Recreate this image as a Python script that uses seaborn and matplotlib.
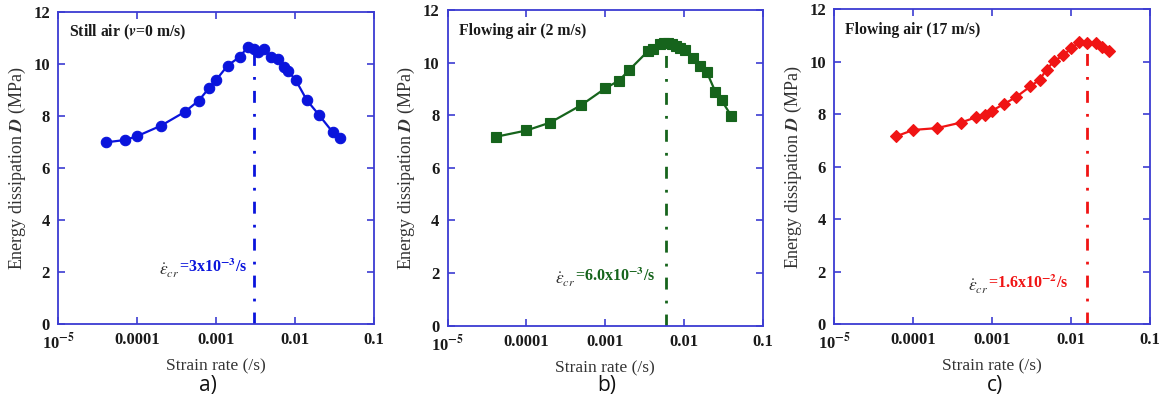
import numpy as np
import pandas as pd
import matplotlib
matplotlib.use("Agg")
import matplotlib.pyplot as plt
from matplotlib.ticker import FixedLocator, NullLocator, FixedFormatter
import seaborn as sns

# ---------------- data ----------------
rate_a = [4.0e-5, 7.0e-5, 1.0e-4, 2.0e-4, 4.0e-4, 6.0e-4, 8.1e-4, 1.0e-3, 1.4e-3, 2.0e-3,
          2.5e-3, 3.0e-3, 3.4e-3, 4.0e-3, 4.9e-3, 6.0e-3, 7.2e-3, 8.1e-3, 1.02e-2, 1.41e-2,
          2.0e-2, 3.0e-2, 3.7e-2]
D_a = [6.98, 7.07, 7.22, 7.62, 8.15, 8.58, 9.06, 9.38, 9.93, 10.27,
       10.64, 10.55, 10.45, 10.55, 10.27, 10.17, 9.86, 9.73, 9.37, 8.6,
       8.04, 7.37, 7.13]

rate_b = [4.1e-5, 1.0e-4, 2.0e-4, 5.0e-4, 1.0e-3, 1.5e-3, 2.0e-3, 3.5e-3, 4.1e-3, 5.0e-3,
          5.5e-3, 6.2e-3, 7.0e-3, 8.0e-3, 9.0e-3, 1.03e-2, 1.3e-2, 1.6e-2, 1.95e-2, 2.5e-2,
          3.0e-2, 4.0e-2]
D_b = [7.18, 7.42, 7.72, 8.39, 9.02, 9.32, 9.71, 10.44, 10.53, 10.72,
       10.73, 10.73, 10.70, 10.65, 10.57, 10.47, 10.19, 9.88, 9.64, 8.9,
       8.57, 7.97]

rate_c = [6.0e-5, 1.0e-4, 2.0e-4, 4.0e-4, 6.2e-4, 8.2e-4, 1.0e-3, 1.4e-3, 2.0e-3, 3.05e-3,
          4.0e-3, 4.9e-3, 6.0e-3, 8.0e-3, 1.0e-2, 1.27e-2, 1.6e-2, 2.05e-2, 2.5e-2, 3.05e-2]
D_c = [7.15, 7.40, 7.47, 7.68, 7.88, 7.98, 8.14, 8.38, 8.65, 9.06,
       9.32, 9.70, 10.01, 10.25, 10.52, 10.74, 10.71, 10.71, 10.56, 10.42]

titles = ["Still air ($\\mathbfit{v}$=0 m/s)", "Flowing air (2 m/s)", "Flowing air (17 m/s)"]
crit_rate = [3.0e-3, 6.0e-3, 1.6e-2]
crit_top = [10.5, 10.72, 10.72]
crit_text = ["=3x10$^{\\mathbf{-3}}$/s", "=6.0x10$^{\\mathbf{-3}}$/s", "=1.6x10$^{\\mathbf{-2}}$/s"]
crit_text_pos = [(1.9e-4, 1.85), (2.3e-4, 1.55), (4.95e-4, 1.22)]
panel_labels = ["a)", "b)", "c)"]

x_ticks = [1e-5, 1e-4, 1e-3, 1e-2, 1e-1]
x_ticklabels = ["10$^{\\mathbf{-5}}$", "0.0001", "0.001", "0.01", "0.1"]
y_ticks = [0, 2, 4, 6, 8, 10, 12]

colors = ["#0a14dc", "#16641c", "#f01414"]
markers = ["o", "s", "D"]
msizes = [7.5, 6.8, 5.8]

# ---------------- style ----------------
sns.set_theme(style="white")
plt.rcParams["font.family"] = ["Liberation Serif", "DejaVu Serif"]
plt.rcParams["mathtext.fontset"] = "stix"

spine_col = "#3c3cd2"

fig = plt.figure(figsize=(11.68, 4.01), dpi=100)
positions = [
    [0.0499, 0.192, 0.2703, 0.7788],
    [0.3833, 0.188, 0.2697, 0.787],
    [0.7143, 0.192, 0.2703, 0.7848],
]
datasets = [(rate_a, D_a), (rate_b, D_b), (rate_c, D_c)]

for i in range(3):
    ax = fig.add_axes(positions[i])
    r, d = datasets[i]
    df = pd.DataFrame({"rate": r, "D": d})
    sns.lineplot(data=df, x="rate", y="D", ax=ax, sort=False, color=colors[i],
                 marker=markers[i], markersize=msizes[i], markeredgecolor=colors[i],
                 markeredgewidth=0.8, linewidth=1.6, zorder=3)
    ax.vlines(crit_rate[i], 0, crit_top[i], colors=colors[i], linewidth=2.0,
              linestyles=(0, (4.3, 4.0, 1.0, 4.0)), zorder=2)
    ax.set_xscale("log")
    ax.set_xlim(1e-5, 0.1)
    ax.set_ylim(0, 12)
    ax.xaxis.set_major_locator(FixedLocator(x_ticks))
    ax.xaxis.set_major_formatter(FixedFormatter(x_ticklabels))
    ax.xaxis.set_minor_locator(NullLocator())
    ax.set_yticks(y_ticks)
    for lab in ax.get_xticklabels() + ax.get_yticklabels():
        lab.set_fontweight("bold")
        lab.set_fontsize(12)
        lab.set_color("#1a1a1a")
    ax.tick_params(axis="both", which="major", direction="in", length=5, width=1.2,
                   color=spine_col, top=True, right=True, bottom=True, left=True, pad=6)
    for s in ax.spines.values():
        s.set_color(spine_col)
        s.set_linewidth(1.3)
        s.set_visible(True)
    ax.set_xlabel("Strain rate (/s)", fontsize=12.5, color="#333333", labelpad=4)
    ax.set_ylabel("Energy dissipation $\\mathbfit{D}$ (MPa)", fontsize=13,
                  color="#333333", labelpad=4)
    ax.text(0.035, 0.935, titles[i], transform=ax.transAxes, fontsize=11.3,
            fontweight="bold", color="#1a1a1a", ha="left", va="center")
    tx, ty = crit_text_pos[i]
    t1 = ax.text(tx, ty, "$\\dot{\\varepsilon}_{cr}$", fontsize=12.5, color="#333333",
                 ha="left", va="baseline")
    ax.annotate(crit_text[i], xy=(0.96, 0.24), xycoords=t1, fontsize=11.5,
                fontweight="bold", color=colors[i], ha="left", va="bottom")
    ax.grid(False)

label_x = [208 / 1168, 607 / 1168, 995 / 1168]
for i in range(3):
    fig.text(label_x[i], 1 - 386 / 401, panel_labels[i], fontsize=15,
             family=["Open Sans", "DejaVu Sans"], color="#111111", ha="center", va="center")

fig.savefig("out.png", dpi=100, facecolor="white")
